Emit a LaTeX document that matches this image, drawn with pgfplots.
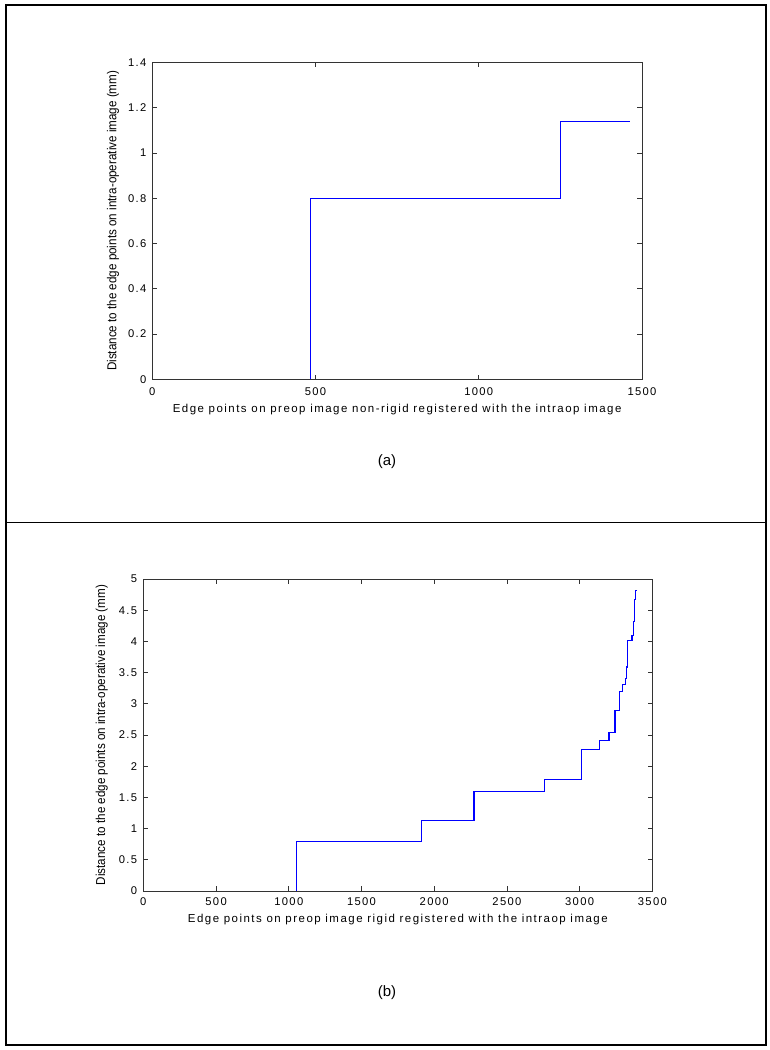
\documentclass[border=0pt]{standalone}
\usepackage{fontspec}
\setmainfont{Liberation Sans}
\newfontfamily\tickfont{Liberation Sans}[LetterSpace=12]
\newfontfamily\labfont{Liberation Sans}[LetterSpace=13]
\newfontfamily\condfont{Liberation Sans}[FakeStretch=0.9]
\usepackage{pgfplots}
\pgfplotsset{compat=1.18}
\pgfplotsset{
  matstyle/.style={
    scale only axis,
    anchor=south west,
    axis line style={draw=black!80, line width=0.75pt},
    tick align=inside,
    major tick length=3.5pt,
    tick style={draw=black!80, line width=0.6pt},
    xtick pos=both, ytick pos=both,
    scaled x ticks=false, scaled y ticks=false,
    /pgf/number format/assume math mode=true,
    /pgf/number format/set thousands separator={},
    tick label style={font=\tickfont\fontsize{8.4pt}{10pt}\selectfont},
    xticklabel style={anchor=center, inner sep=0pt},
    yticklabel style={anchor=east, inner sep=0pt},
    xlabel style={font=\labfont\fontsize{8.6pt}{10pt}\selectfont, anchor=center},
    ylabel style={font=\condfont\fontsize{9.7pt}{10pt}\selectfont, anchor=center},
  }
}
\begin{document}
\begin{tikzpicture}
\path[use as bounding box] (0pt,0pt) rectangle (577.5pt,-787.5pt);
\draw[line width=1.2pt] (4.5pt,-3.75pt) rectangle (574.5pt,-783.75pt);
\draw[line width=1.2pt] (4.5pt,-392pt) -- (574.5pt,-392pt);

\begin{axis}[matstyle,
  at={(114.2pt,-284.5pt)},
  width=367.3pt, height=237.75pt,
  xmin=0, xmax=1500, ymin=0, ymax=1.4,
  xtick={0,500,1000,1500},
  ytick={0,0.2,0.4,0.6,0.8,1,1.2,1.4},
  xticklabel style={yshift=-9.3pt},
  yticklabel style={xshift=-4.2pt},
  xlabel={Edge points on preop image non-rigid registered with the intraop image},
  ylabel={Distance to the edge points on intra-operative image (mm)},
  xlabel style={at={(axis description cs:0.5,-0.0937)}},
  ylabel style={at={(axis description cs:-0.0803,0.5)}},
]
\addplot[blue, line width=0.85pt] coordinates {
(484,0) (484,0.8) (1251,0.8) (1251,1.137) (1464,1.137)
};
\end{axis}

\node[font=\fontsize{11.25pt}{13pt}\selectfont] at (290.25pt,-346.5pt) {(a)};

\begin{axis}[matstyle,
  at={(107.5pt,-668.25pt)},
  width=381.75pt, height=234pt,
  xmin=0, xmax=3500, ymin=0, ymax=5,
  xtick={0,500,1000,1500,2000,2500,3000,3500},
  ytick={0,0.5,1,1.5,2,2.5,3,3.5,4,4.5,5},
  xticklabel style={yshift=-8.25pt},
  yticklabel style={xshift=-4.5pt},
  xlabel={Edge points on preop image rigid registered with the intraop image},
  ylabel={Distance to the edge points on intra-operative image (mm)},
  xlabel style={at={(axis description cs:0.5,-0.0929)}},
  ylabel style={at={(axis description cs:-0.0817,0.5)}},
]
\addplot[blue, line width=0.85pt] coordinates {
(1054,0) (1054,0.8) (1912,0.8) (1912,1.135) (2274,1.135)
(2274,1.6) (2757,1.6) (2757,1.79) (3014,1.79) (3014,2.27) (3135,2.27)
(3135,2.41) (3202,2.41) (3202,2.54) (3243,2.54) (3243,2.89) (3273,2.89)
(3273,3.2) (3296,3.2) (3296,3.31) (3314,3.31) (3314,3.41) (3323,3.41)
(3323,3.59) (3331,3.59) (3331,4.01) (3360,4.01) (3360,4.09) (3369,4.09)
(3369,4.32) (3379,4.32) (3379,4.67) (3386,4.67) (3386,4.82) (3388,4.82)
};
\end{axis}

\node[font=\fontsize{11.25pt}{13pt}\selectfont] at (290.25pt,-744.75pt) {(b)};
\end{tikzpicture}
\end{document}
